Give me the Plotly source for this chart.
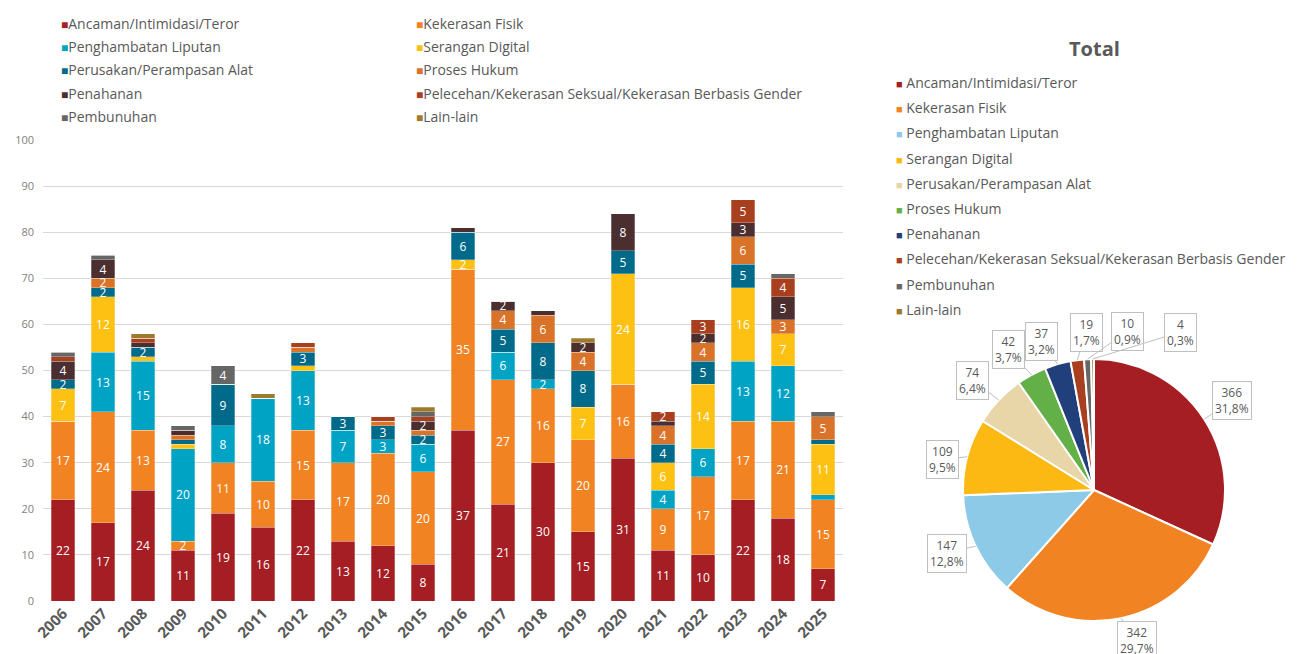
import math
import plotly.graph_objects as go

# Kategori & tahun
YEARS = ["2006", "2007", "2008", "2009", "2010", "2011", "2012", "2013", "2014", "2015",
         "2016", "2017", "2018", "2019", "2020", "2021", "2022", "2023", "2024", "2025"]

CATEGORIES = [
    "Ancaman/Intimidasi/Teror",
    "Kekerasan Fisik",
    "Penghambatan Liputan",
    "Serangan Digital",
    "Perusakan/Perampasan Alat",
    "Proses Hukum",
    "Penahanan",
    "Pelecehan/Kekerasan Seksual/Kekerasan Berbasis Gender",
    "Pembunuhan",
    "Lain-lain",
]

ANCAMAN      = [22, 17, 24, 11, 19, 16, 22, 13, 12, 8, 37, 21, 30, 15, 31, 11, 10, 22, 18, 7]
FISIK        = [17, 24, 13, 2, 11, 10, 15, 17, 20, 20, 35, 27, 16, 20, 16, 9, 17, 17, 21, 15]
PENGHAMBATAN = [0, 13, 15, 20, 8, 18, 13, 7, 3, 6, 0, 6, 2, 0, 0, 4, 6, 13, 12, 1]
DIGITAL      = [7, 12, 1, 1, 0, 0, 1, 0, 0, 0, 2, 0, 0, 7, 24, 6, 14, 16, 7, 11]
PERUSAKAN    = [2, 2, 2, 1, 9, 0, 3, 3, 3, 2, 6, 5, 8, 8, 5, 4, 5, 5, 0, 1]
PROSES_HUKUM = [0, 2, 0, 1, 0, 0, 1, 0, 1, 1, 0, 4, 6, 4, 0, 4, 4, 6, 3, 5]
PENAHANAN    = [4, 4, 1, 1, 0, 0, 0, 0, 0, 2, 1, 2, 1, 2, 8, 1, 2, 3, 5, 0]
PELECEHAN    = [1, 0, 1, 0, 0, 0, 1, 0, 1, 1, 0, 0, 0, 0, 0, 2, 3, 5, 4, 0]
PEMBUNUHAN   = [1, 1, 0, 1, 4, 0, 0, 0, 0, 1, 0, 0, 0, 0, 0, 0, 0, 0, 1, 1]
LAIN_LAIN    = [0, 0, 1, 0, 0, 1, 0, 0, 0, 1, 0, 0, 0, 1, 0, 0, 0, 0, 0, 0]

SERIES = [ANCAMAN, FISIK, PENGHAMBATAN, DIGITAL, PERUSAKAN,
          PROSES_HUKUM, PENAHANAN, PELECEHAN, PEMBUNUHAN, LAIN_LAIN]

BAR_COLORS = ["#A51E23", "#F28322", "#00A3C4", "#FDC113", "#006A8A",
              "#D9732A", "#4A2E30", "#A8401F", "#666666", "#9C7A2E"]
PIE_COLORS = ["#A51E23", "#F28322", "#8DCAE8", "#FDB913", "#E8D5A8",
              "#62B047", "#213F7A", "#A8401F", "#666666", "#9C7A2E"]

# offset label pie (px) dari tepi irisan
LABEL_OFFSETS = [(28, -19), (16, 22), (-29, 7), (-25, 3), (-26, -20),
                 (-23, -25), (-16, -23), (9, -28), (40, -28), (88, -27)]

# halaman punya margin body 8px -> figure sedikit lebih kecil
OX, OY = 8, 8
W, H = 1298 - OX, 654 - OY
FONT = "Open Sans"
GREY = "#595959"


def sx(X):
    return (X - OX) / W


def sy(Y):
    return 1 - (Y - OY) / H


# pie geometry (px layar)
PIE_CX, PIE_CY, PIE_R = 1094, 490, 131

fig = go.Figure()

# Stacked bars
for i, (name, vals) in enumerate(zip(CATEGORIES, SERIES)):
    fig.add_trace(go.Bar(
        x=YEARS, y=vals, name=name,
        marker=dict(color=BAR_COLORS[i], line=dict(color="rgba(255,255,255,0.45)", width=0.6)),
        text=[str(v) if v >= 2 else "" for v in vals],
        textposition="inside", insidetextanchor="middle", textangle=0,
        textfont=dict(color="white", size=12, family=FONT),
        showlegend=False, legendgroup=f"g{i}",
        hovertemplate="%{x}<br>" + name + ": %{y}<extra></extra>",
    ))

HIDDEN = dict(color="rgba(0,0,0,0)", size=1, line=dict(width=0))

# legend atas (2 kolom)
for i, name in enumerate(CATEGORIES):
    fig.add_trace(go.Scatter(
        x=[None], y=[None], mode="markers", marker=HIDDEN,
        name=f'<span style="color:{BAR_COLORS[i]};font-size:12px">■</span>{name}',
        legend="legend" if i % 2 == 0 else "legend2",
        legendgroup=f"g{i}", showlegend=True, hoverinfo="skip",
    ))

# Pie total
totals = [sum(s) for s in SERIES]
grand = sum(totals)
fig.add_trace(go.Pie(
    labels=CATEGORIES, values=totals, sort=False, direction="clockwise", rotation=0,
    marker=dict(colors=PIE_COLORS, line=dict(color="white", width=2)),
    textinfo="none", showlegend=False,
    domain=dict(x=[sx(PIE_CX - PIE_R), sx(PIE_CX + PIE_R)],
                y=[sy(PIE_CY + PIE_R), sy(PIE_CY - PIE_R)]),
    hovertemplate="%{label}: %{value} (%{percent})<extra></extra>",
))

for i, name in enumerate(CATEGORIES):
    fig.add_trace(go.Scatter(
        x=[None], y=[None], mode="markers", marker=HIDDEN,
        name=f'<span style="color:{PIE_COLORS[i]};font-size:11px">■</span> {name}',
        legend="legend3", legendgroup=f"p{i}", showlegend=True, hoverinfo="skip",
    ))

# label kotak pie
cum = 0
for i, v in enumerate(totals):
    theta = 2 * math.pi * (cum + v / 2) / grand
    cum += v
    px = PIE_CX + PIE_R * math.sin(theta)
    py = PIE_CY - PIE_R * math.cos(theta)
    pct = f"{v / grand * 100:.1f}".replace(".", ",")
    ax, ay = LABEL_OFFSETS[i]
    fig.add_annotation(
        x=sx(px), y=sy(py), xref="paper", yref="paper",
        text=f"{v}<br>{pct}%", showarrow=True, arrowhead=0, arrowwidth=1,
        arrowcolor="#bfbfbf", ax=ax, ay=ay,
        bordercolor="#bfbfbf", borderwidth=1, borderpad=2, bgcolor="white",
        font=dict(size=12, color=GREY, family=FONT),
    )

fig.add_annotation(
    x=sx(PIE_CX), y=sy(49), xref="paper", yref="paper", showarrow=False,
    xanchor="center", yanchor="middle",
    text="<b>Total</b>", font=dict(size=20, color=GREY, family=FONT),
)

LEG = dict(xanchor="left", yanchor="top", xref="container", yref="container",
           bgcolor="rgba(0,0,0,0)", borderwidth=0)

fig.update_layout(
    width=W, height=H,
    margin=dict(l=0, r=0, t=0, b=0, autoexpand=False),
    paper_bgcolor="white", plot_bgcolor="white",
    barmode="stack", bargap=0.42,
    font=dict(family=FONT, color=GREY),
    separators=",.",
    uniformtext=dict(minsize=12, mode="show"),
    xaxis=dict(
        domain=[sx(43), sx(843)], type="category", tickangle=-45, automargin=False,
        tickfont=dict(size=15, weight="bold", color=GREY),
        showgrid=False, showline=False, ticks="",
    ),
    yaxis=dict(
        domain=[sy(601), sy(140)], range=[0, 100], dtick=10, automargin=False,
        gridcolor="#d9d9d9", gridwidth=1, zeroline=False,
        tickfont=dict(size=11, color="#7f7f7f"), ticklabelstandoff=8,
    ),
    legend=dict(LEG, x=sx(21), y=sy(6), font=dict(size=14, color=GREY), tracegroupgap=2),
    legend2=dict(LEG, x=sx(376), y=sy(6), font=dict(size=14, color=GREY), tracegroupgap=2),
    legend3=dict(LEG, x=sx(856), y=sy(67), font=dict(size=14, color=GREY), tracegroupgap=4),
)

fig.write_html("out.html")
